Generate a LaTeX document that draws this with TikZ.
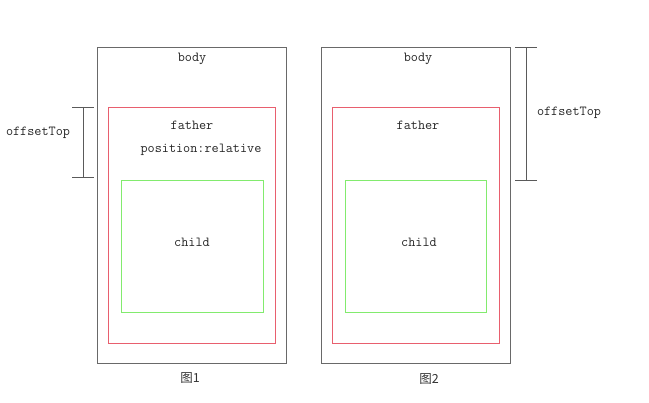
\documentclass[tikz,border=0pt]{standalone}
\usepackage{fontspec}
\newfontfamily\cjk{Noto Sans CJK SC}
\definecolor{bodygray}{RGB}{105,105,105}
\definecolor{fatherred}{RGB}{232,95,110}
\definecolor{childgreen}{RGB}{130,235,110}
\definecolor{dimgray}{RGB}{90,90,90}
\begin{document}
\begin{tikzpicture}[x=1pt,y=-1pt,
  lbl/.style={font=\ttfamily\fontsize{13.8}{15}\selectfont, text=black!85, inner sep=0pt},
  figcaption/.style={font=\cjk\fontsize{12.5}{14}\selectfont, text=black!80, inner sep=0pt},
  bodybox/.style={draw=bodygray, line width=0.8pt},
  fatherbox/.style={draw=fatherred, line width=0.8pt},
  childbox/.style={draw=childgreen, line width=0.8pt},
  dimline/.style={draw=dimgray, line width=0.9pt}]
\useasboundingbox (0,0) rectangle (649,403);
% Figure 1
\draw[bodybox] (97,47) rectangle (286,363);
\draw[fatherbox] (108.5,107) rectangle (275,343);
\draw[childbox] (121,180.5) rectangle (263,312);
\node[lbl] (body1) at (192,59) {body};
\node[lbl] (father1) at (192,125) {father};
\node[lbl] (pos1) at (201,150) {position:relative};
\node[lbl] (child1) at (192,242) {child};
\node[figcaption] (fig1) at (190,378) {图1};
% offset bracket 1
\coordinate (t1a) at (72,107);
\coordinate (t1b) at (94,107);
\coordinate (b1a) at (72,177.5);
\coordinate (b1b) at (94,177.5);
\coordinate (v1t) at (83.5,107);
\coordinate (v1b) at (83.5,177.5);
\draw[dimline] (t1a) -- (t1b);
\draw[dimline] (b1a) -- (b1b);
\draw[dimline] (v1t) -- (v1b);
\node[lbl] (off1) at (38,133) {offsetTop};
% Figure 2
\draw[bodybox] (321,47) rectangle (510,363);
\draw[fatherbox] (332.5,107) rectangle (499,343);
\draw[childbox] (345,180.5) rectangle (486.5,312);
\node[lbl] (body2) at (418,59) {body};
\node[lbl] (father2) at (418,125) {father};
\node[lbl] (child2) at (419,242) {child};
\node[figcaption] (fig2) at (429,379) {图2};
% offset bracket 2
\coordinate (t2a) at (515,47.5);
\coordinate (t2b) at (537,47.5);
\coordinate (b2a) at (515,180.5);
\coordinate (b2b) at (537,180.5);
\coordinate (v2t) at (526,47.5);
\coordinate (v2b) at (526,180.5);
\draw[dimline] (t2a) -- (t2b);
\draw[dimline] (b2a) -- (b2b);
\draw[dimline] (v2t) -- (v2b);
\node[lbl] (off2) at (569,113) {offsetTop};
\end{tikzpicture}
\end{document}
